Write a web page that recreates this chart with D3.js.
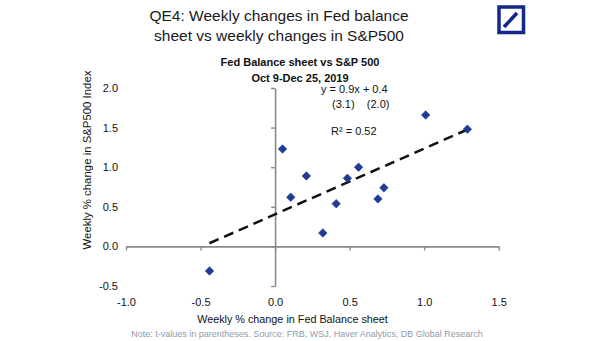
<!DOCTYPE html>
<html>
<head>
<meta charset="utf-8">
<script src="https://cdn.jsdelivr.net/npm/d3@7"></script>
<style>
  body { margin: 0; background: #fff; }
  svg text { font-family: "Liberation Sans", Arial, sans-serif; }
</style>
</head>
<body>
<div id="chart"></div>
<script>
// weekly % change in Fed balance sheet (x) vs S&P500 (y)
const fedChange = [-0.44, 0.05, 0.105, 0.21, 0.32, 0.41, 0.485, 0.56, 0.69, 0.73, 1.01, 1.29];
const spxChange = [-0.31, 1.23, 0.62, 0.89, 0.17, 0.54, 0.86, 1.00, 0.60, 0.74, 1.66, 1.48];
const xTicks = [-1.0, -0.5, 0.0, 0.5, 1.0, 1.5];
const yTicks = [-0.5, 0.0, 0.5, 1.0, 1.5, 2.0];
// trend line as drawn on the chart
const trendSlope = 0.83;
const trendIntercept = 0.405;
const titleLines = ['QE4: Weekly changes in Fed balance', 'sheet vs weekly changes in S&P500'];
const subTitleLines = ['Fed Balance sheet vs S&P 500', 'Oct 9-Dec 25, 2019'];

const width = 605, height = 341;
const svg = d3.select('#chart').append('svg')
    .attr('width', width)
    .attr('height', height);

const x = d3.scaleLinear().domain([-1, 1.5]).range([126, 498.7]);
const y = d3.scaleLinear().domain([-0.5, 2]).range([286, 88]);
const fmt = d => d.toFixed(1); // 用普通连字符作负号

// 标题
svg.selectAll('.title').data(titleLines).enter().append('text')
    .attr('x', 279).attr('y', (d, i) => 21 + i * 19.5)
    .attr('text-anchor', 'middle')
    .attr('font-size', 15.5)
    .attr('fill', '#1a1a1a')
    .text(d => d);

svg.selectAll('.subtitle').data(subTitleLines).enter().append('text')
    .attr('x', 300).attr('y', (d, i) => 65.5 + i * 16.3)
    .attr('text-anchor', 'middle')
    .attr('font-size', 11)
    .attr('font-weight', 'bold')
    .attr('fill', '#111')
    .text(d => d);

// logo
const logo = svg.append('g');
logo.append('rect')
    .attr('x', 499).attr('y', 7).attr('width', 24.5).attr('height', 25.5)
    .attr('fill', 'none').attr('stroke', '#14288c').attr('stroke-width', 3.5);
logo.append('line')
    .attr('x1', 504).attr('y1', 27).attr('x2', 517).attr('y2', 13)
    .attr('stroke', '#14288c').attr('stroke-width', 3.6);

// 坐标轴
const axisColor = '#8a8a8a';
const yAxis = d3.axisLeft(y).tickValues(yTicks).tickSizeInner(4).tickSizeOuter(0)
    .tickPadding(x(0) - 118 - 4).tickFormat(fmt);
const yG = svg.append('g').attr('transform', `translate(${x(0)},0)`).call(yAxis);

const xAxis = d3.axisBottom(x).tickValues(xTicks).tickSizeInner(4).tickSizeOuter(0)
    .tickPadding(298 - y(0) - 4).tickFormat(fmt);
const xG = svg.append('g').attr('transform', `translate(0,${y(0)})`).call(xAxis);

[xG, yG].forEach(g => {
    g.select('.domain').attr('stroke', axisColor).attr('stroke-width', 1.6);
    g.selectAll('.tick line').attr('stroke', axisColor).attr('stroke-width', 1.4);
    g.selectAll('.tick text').attr('fill', '#111').attr('font-size', 11)
        .style('font-family', '"Liberation Sans", Arial, sans-serif');
});

// 趋势线
const xMin = d3.min(fedChange), xMax = d3.max(fedChange);
const lineGenerator = d3.line().x(d => x(d[0])).y(d => y(d[1]));
svg.append('path')
    .attr('d', lineGenerator([[xMin, trendSlope * xMin + trendIntercept], [xMax, trendSlope * xMax + trendIntercept]]))
    .attr('stroke', '#111').attr('stroke-width', 2.5)
    .attr('stroke-dasharray', '10,6').attr('fill', 'none');

// 散点
const diamond = d3.symbol().type(d3.symbolDiamond2).size(46);
svg.selectAll('.pt').data(fedChange).enter().append('path')
    .attr('d', diamond)
    .attr('transform', (d, i) => `translate(${x(d)},${y(spxChange[i])})`)
    .attr('fill', '#1d3c9a').attr('stroke', '#17307f').attr('stroke-width', 0.6);

// 回归方程
svg.append('text').attr('x', 321).attr('y', 93).attr('font-size', 11).attr('fill', '#111')
    .text('y = 0.9x + 0.4');
svg.append('text').attr('x', 332).attr('y', 108).attr('font-size', 11).attr('fill', '#111')
    .attr('xml:space', 'preserve').text('(3.1)    (2.0)');
svg.append('text').attr('x', 331).attr('y', 135).attr('font-size', 11).attr('fill', '#111')
    .text('R² = 0.52');

// 坐标轴标题
svg.append('text')
    .attr('transform', 'translate(91,160) rotate(-90)')
    .attr('text-anchor', 'middle').attr('font-size', 11.4).attr('fill', '#111')
    .text('Weekly % change in S&P500 Index');
svg.append('text')
    .attr('x', 292.5).attr('y', 322.5)
    .attr('text-anchor', 'middle').attr('font-size', 10.8).attr('fill', '#111')
    .text('Weekly % change in Fed Balance sheet');

svg.append('text')
    .attr('x', 307).attr('y', 337)
    .attr('text-anchor', 'middle').attr('font-size', 9).attr('fill', '#8c9bab')
    .text('Note: t-values in parentheses. Source: FRB, WSJ, Haver Analytics, DB Global Research');
</script>
</body>
</html>
